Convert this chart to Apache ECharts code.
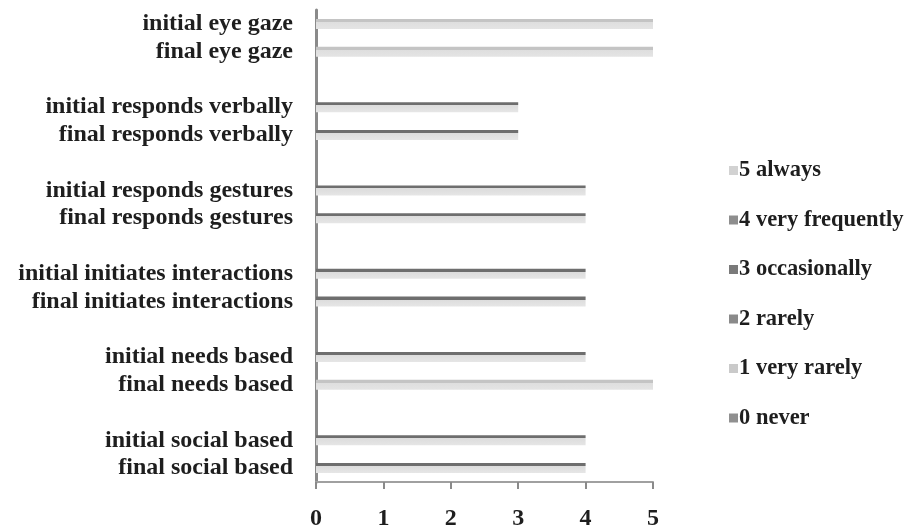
<!DOCTYPE html>
<html>
<head>
<meta charset="utf-8">
<script src="https://cdn.jsdelivr.net/npm/echarts@6/dist/echarts.min.js"></script>
<style>
html,body{margin:0;padding:0;background:#fff;}
#chart{width:908px;height:531px;}
</style>
</head>
<body>
<div id="chart"></div>
<script>
// Categories, top to bottom ("" = spacer between pairs)
const categories = [
  "initial eye gaze", "final eye gaze", "",
  "initial responds verbally", "final responds verbally", "",
  "initial responds gestures", "final responds gestures", "",
  "initial initiates interactions", "final initiates interactions", "",
  "initial needs based", "final needs based", "",
  "initial social based", "final social based"
];
// Rated level per category (null = spacer)
const levels = [
  5, 5, null,
  3, 3, null,
  4, 4, null,
  4, 4, null,
  4, 5, null,
  4, 4
];
// Legend series: name and level
const seriesNames = ["5 always", "4 very frequently", "3 occasionally", "2 rarely", "1 very rarely", "0 never"];
const seriesLevels = [5, 4, 3, 2, 1, 0];
const xTicks = [0, 1, 2, 3, 4, 5];

const iconColors = ["#d2d2d2", "#8e8e8e", "#7a7a7a", "#8a8a8a", "#cacaca", "#909090"];

function barFill(level) {
  if (level === 5) {
    return new echarts.graphic.LinearGradient(0, 0, 0, 1, [
      {offset: 0, color: '#c4c4c4'}, {offset: 0.3, color: '#c4c4c4'},
      {offset: 0.3, color: '#dedede'}, {offset: 1, color: '#e4e4e4'}
    ]);
  }
  return new echarts.graphic.LinearGradient(0, 0, 0, 1, [
    {offset: 0, color: '#6e6e6e'}, {offset: 0.3, color: '#6e6e6e'},
    {offset: 0.3, color: '#dcdcdc'}, {offset: 1, color: '#e6e6e6'}
  ]);
}

const font = "'Liberation Serif', 'Times New Roman', serif";

const series = seriesNames.map((name, i) => ({
  name: name,
  type: 'bar',
  barWidth: 10,
  barGap: '-100%',
  color: iconColors[i],
  itemStyle: {color: barFill(seriesLevels[i])},
  data: levels.map(v => (v === seriesLevels[i] ? v : null))
}));

const chart = echarts.init(document.getElementById('chart'), null, {renderer: 'canvas'});
chart.setOption({
  animation: false,
  backgroundColor: '#ffffff',
  grid: {left: 316, top: 10, width: 337, height: 472, containLabel: false},
  legend: {
    orient: 'vertical',
    left: 724,
    top: 154,
    itemWidth: 9,
    itemHeight: 9,
    itemGap: 26.5,
    icon: 'rect',
    textStyle: {fontFamily: font, fontSize: 22.5, fontWeight: 'bold', color: '#1e1e1e', padding: [0, 0, 0, -4]},
    data: seriesNames.map((n, i) => ({name: n, itemStyle: {color: iconColors[i]}}))
  },
  xAxis: {
    type: 'value',
    min: 0,
    max: 5,
    interval: 1,
    splitLine: {show: false},
    axisLine: {show: true, lineStyle: {color: '#a0a0a0', width: 2}},
    axisTick: {show: true, length: 7, lineStyle: {color: '#8a8a8a', width: 2}},
    axisLabel: {fontFamily: font, fontSize: 24, fontWeight: 'bold', color: '#1e1e1e', margin: 25,
      formatter: v => String(xTicks[v])}
  },
  yAxis: {
    type: 'category',
    inverse: true,
    data: categories,
    axisLine: {show: true, lineStyle: {color: '#8a8a8a', width: 3}},
    axisTick: {show: false},
    axisLabel: {fontFamily: font, fontSize: 24, fontWeight: 'bold', color: '#1e1e1e', margin: 23, interval: 0,
      padding: [0, 0, 6, 0]}
  },
  series: series
});
</script>
</body>
</html>
